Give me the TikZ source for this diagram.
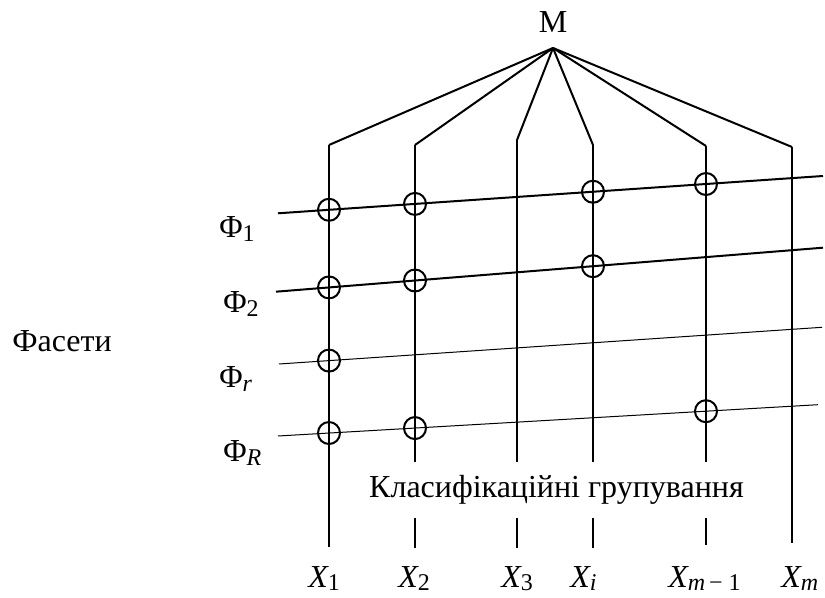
\documentclass[tikz,border=0pt]{standalone}
\usepackage{fontspec}
\setmainfont{Liberation Serif}
\newcommand{\lsub}[1]{\raisebox{-0.25ex}{\fontsize{18}{18}\selectfont #1}}
\begin{document}
\begin{tikzpicture}[x=0.75pt,y=-0.75pt,
  thickl/.style={line width=1.5pt},
  thinl/.style={line width=0.75pt},
  circ/.style={line width=1.5pt},
  lbl/.style={inner sep=0pt,font=\fontsize{24}{28}\selectfont}]
\useasboundingbox (0,0) rectangle (825,598);
% apex and label
\coordinate (A) at (553,48);
\node[lbl,anchor=base] (M) at (553,32.7) {M};
% vertical tops
\coordinate (T1) at (329,145);
\coordinate (T2) at (415,145);
\coordinate (T3) at (517,140);
\coordinate (T4) at (593,145);
\coordinate (T5) at (706,146);
\coordinate (T6) at (792,147);
% vertical bottoms and gaps
\coordinate (B1) at (329,547);
\coordinate (U2) at (415,462); \coordinate (L2) at (415,518); \coordinate (B2) at (415,548);
\coordinate (U3) at (517,462); \coordinate (L3) at (517,518); \coordinate (B3) at (517,548);
\coordinate (U4) at (593,462); \coordinate (L4) at (593,518); \coordinate (B4) at (593,548);
\coordinate (U5) at (706,462); \coordinate (L5) at (706,518); \coordinate (B5) at (706,545);
\coordinate (B6) at (792,543);
% fan
\foreach \i in {1,...,6} \draw[thickl] (A) -- (T\i);
% verticals
\draw[thickl] (T1) -- (B1);
\foreach \i in {2,...,5} {\draw[thickl] (T\i) -- (U\i); \draw[thickl] (L\i) -- (B\i);}
\draw[thickl] (T6) -- (B6);
% facet lines
\coordinate (F1a) at (278,213.3); \coordinate (F1b) at (823,176);
\coordinate (F2a) at (276,291.7); \coordinate (F2b) at (823,247.7);
\coordinate (Fra) at (279,364);   \coordinate (Frb) at (822,327.3);
\coordinate (FRa) at (278,436);   \coordinate (FRb) at (818,404.7);
\draw[thickl] (F1a) -- (F1b);
\draw[thickl] (F2a) -- (F2b);
\draw[thinl] (Fra) -- (Frb);
\draw[thinl] (FRa) -- (FRb);
% circles at intersections
\coordinate (c11) at (intersection of F1a--F1b and T1--B1);
\coordinate (c12) at (intersection of F1a--F1b and T2--B2);
\coordinate (c14) at (intersection of F1a--F1b and T4--B4);
\coordinate (c15) at (intersection of F1a--F1b and T5--B5);
\coordinate (c21) at (intersection of F2a--F2b and T1--B1);
\coordinate (c22) at (intersection of F2a--F2b and T2--B2);
\coordinate (c24) at (intersection of F2a--F2b and T4--B4);
\coordinate (cr1) at (intersection of Fra--Frb and T1--B1);
\coordinate (cR1) at (intersection of FRa--FRb and T1--B1);
\coordinate (cR2) at (intersection of FRa--FRb and T2--B2);
\coordinate (cR5) at (intersection of FRa--FRb and T5--B5);
\foreach \c in {c11,c12,c14,c15,c21,c22,c24,cr1,cR1,cR2,cR5}
  \draw[circ] (\c) circle[radius=8.25pt];
% facet labels
\node[lbl,anchor=base west] (P1) at (219,238) {Φ\lsub{1}};
\node[lbl,anchor=base west] (P2) at (223,313) {Φ\lsub{2}};
\node[lbl,anchor=base west] (Pr) at (219,388) {Φ\lsub{\itshape r}};
\node[lbl,anchor=base west] (PR) at (223,462) {Φ\lsub{\itshape R}};
\node[lbl,anchor=base west] (Fac) at (12,352) {Фасети};
% groups label
\node[lbl,anchor=base] (G) at (556.5,498) {Класифікаційні групування};
% X labels
\node[lbl,anchor=base west] (X1) at (308,587) {\itshape X\lsub{\upshape 1}};
\node[lbl,anchor=base west] (X2) at (398,587) {\itshape X\lsub{\upshape 2}};
\node[lbl,anchor=base west] (X3) at (501,587) {\itshape X\lsub{\upshape 3}};
\node[lbl,anchor=base west] (Xi) at (570,587) {\itshape X\lsub{i}};
\node[lbl,anchor=base west] (Xm1) at (668,587) {\itshape X\lsub{m\,\upshape − 1}};
\node[lbl,anchor=base west] (Xm) at (781,587) {\itshape X\lsub{m}};
\end{tikzpicture}
\end{document}
